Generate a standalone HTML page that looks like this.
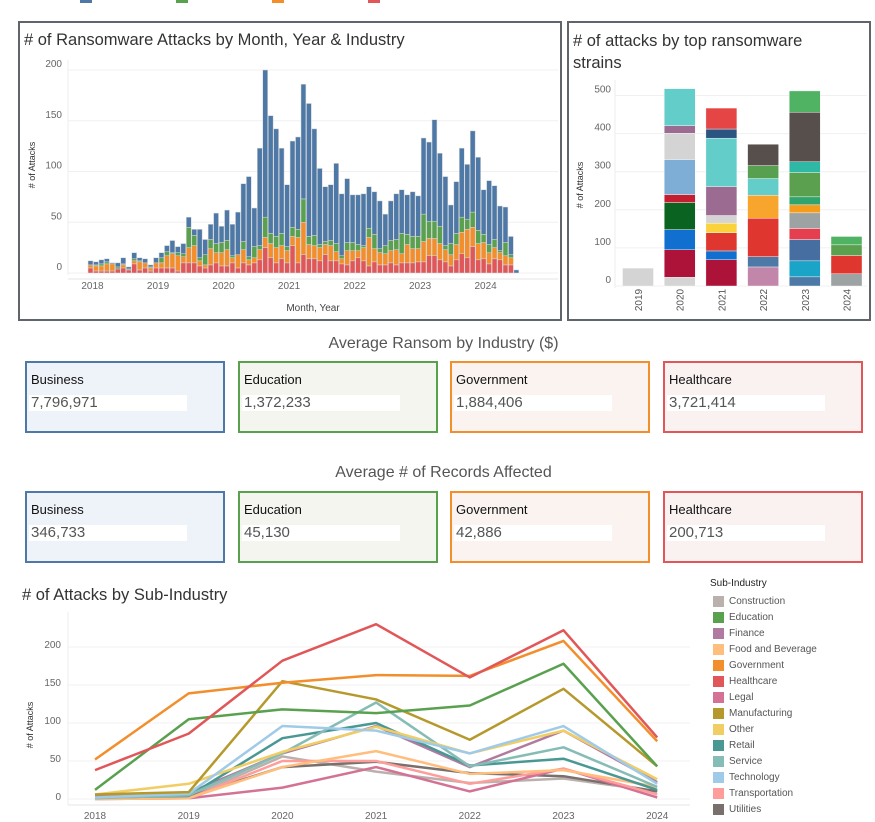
<!DOCTYPE html>
<html><head><meta charset="utf-8">
<style>
*{box-sizing:border-box}
body{margin:0;width:875px;height:822px;background:#fff;font-family:"Liberation Sans","DejaVu Sans",sans-serif;position:relative;overflow:hidden;color:#333}
.abs{position:absolute}
.box{position:absolute;border:2px solid #5f656b}
.title{position:absolute;font-size:16.5px;color:#333}
.sec{position:absolute;font-size:16px;color:#555;width:875px;text-align:center}
.card{position:absolute;width:200px;height:72px;border:2px solid}
.card .lab{position:absolute;left:4px;top:9px;font-size:13px;color:#111}
.card .val{position:absolute;left:2px;top:32px;width:158px;height:16px;background:#fff;font-size:15px;color:#555;padding-left:2px;line-height:16px}
svg text{font-family:"Liberation Sans",sans-serif}
</style></head><body>
<div class="abs" style="left:80px;top:0;width:12px;height:3px;background:#4e79a7"></div>
<div class="abs" style="left:176px;top:0;width:12px;height:3px;background:#59a14f"></div>
<div class="abs" style="left:272px;top:0;width:12px;height:3px;background:#f28e2b"></div>
<div class="abs" style="left:368px;top:0;width:12px;height:3px;background:#e15759"></div>

<div class="box" style="left:18px;top:21px;width:544px;height:300px"></div>
<div class="title" style="left:24px;top:31px">&#35; of Ransomware Attacks by Month, Year &amp; Industry</div>
<svg id="c1" class="abs" style="left:0;top:0" width="565" height="325"></svg>

<div class="box" style="left:567px;top:21px;width:304px;height:300px"></div>
<div class="title" style="left:573px;top:30px;line-height:22px;width:250px">&#35; of attacks by top ransomware strains</div>
<svg id="c2" class="abs" style="left:567px;top:0" width="304" height="322"></svg>

<div class="sec" style="left:6px;top:335px">Average Ransom by Industry ($)</div>
<div class="card" style="left:25px;top:361px;border-color:#4e79a7;background:#eef2f9"><div class="lab">Business</div><div class="val">7,796,971</div></div>
<div class="card" style="left:238px;top:361px;border-color:#59a14f;background:#f5f5ef"><div class="lab">Education</div><div class="val">1,372,233</div></div>
<div class="card" style="left:450px;top:361px;border-color:#f28e2b;background:#faf3ef"><div class="lab">Government</div><div class="val">1,884,406</div></div>
<div class="card" style="left:663px;top:361px;border-color:#e15759;background:#faf1f1"><div class="lab">Healthcare</div><div class="val">3,721,414</div></div>

<div class="sec" style="left:6px;top:464px">Average # of Records Affected</div>
<div class="card" style="left:25px;top:491px;border-color:#4e79a7;background:#eef2f9"><div class="lab">Business</div><div class="val">346,733</div></div>
<div class="card" style="left:238px;top:491px;border-color:#59a14f;background:#f5f5ef"><div class="lab">Education</div><div class="val">45,130</div></div>
<div class="card" style="left:450px;top:491px;border-color:#f28e2b;background:#faf3ef"><div class="lab">Government</div><div class="val">42,886</div></div>
<div class="card" style="left:663px;top:491px;border-color:#e15759;background:#faf1f1"><div class="lab">Healthcare</div><div class="val">200,713</div></div>

<div class="title" style="left:22px;top:586px">&#35; of Attacks by Sub-Industry</div>
<svg id="c3" class="abs" style="left:0;top:600px" width="700" height="222"></svg>
<div id="leg" class="abs" style="left:710px;top:578px;width:160px"></div>

<script>
const NS="http://www.w3.org/2000/svg";
function mk(svg,tag,attrs,txt){const e=document.createElementNS(NS,tag);for(const k in attrs)e.setAttribute(k,attrs[k]);if(txt!==undefined)e.textContent=txt;svg.appendChild(e);return e;}

// ---- Chart 1 data ----
const monthTotals=[12,11,13,14,10,10,15,6,20,15,14,8, 15,20,27,32,26,29,55,43,43,33,48,59, 46,62,48,60,88,95,64,123,200,155,142,123, 87,130,134,186,167,142,103,85,87,108,78,93, 77,77,78,85,80,71,58,71,78,82,77,80, 76,133,129,151,118,95,67,90,123,107,140,114, 82,91,86,66,65,36,3];
const healthcare=[5,2,2,2,2,4,5,3,9,3,5,2, 5,5,5,5,2,10,10,10,7,5,8,10, 7,7,10,5,10,8,10,13,25,15,10,14, 10,27,10,18,14,14,12,18,12,12,9,8, 12,15,12,7,11,8,8,10,8,10,10,10, 11,11,17,17,13,11,7,13,19,15,26,13, 14,9,14,13,8,8,0];
const government=[3,5,5,7,7,0,3,0,3,8,5,3, 5,5,12,14,15,6,15,17,5,3,16,10, 13,16,5,13,13,5,5,10,10,14,15,13, 12,9,25,32,14,13,13,10,15,9,5,14, 10,7,13,28,13,12,11,12,15,9,18,14, 13,20,17,17,16,12,11,15,21,28,19,16, 16,11,11,7,9,7,0];
const education=[0,1,2,2,0,2,1,1,2,1,0,1, 0,5,4,1,3,3,20,10,3,10,9,9, 10,9,2,0,8,3,11,4,20,10,11,12, 4,9,8,23,8,10,3,3,5,8,3,8, 8,6,2,9,14,4,8,10,10,20,10,12, 12,27,17,17,17,4,11,11,15,10,15,13, 8,8,8,2,13,3,0];
const yTicks1=[0,50,100,150,200];
const xYears1=["2018","2019","2020","2021","2022","2023","2024"];
(function(){
 const svg=document.getElementById('c1');
 const y=v=>273-v*1.015, x=i=>90.5+i*5.46, bw=4.9;
 yTicks1.forEach(t=>{
  const g=mk(svg,'line',{x1:68,x2:558,y1:y(t),y2:y(t),stroke:'#f0f0f0'});
  
  const l=mk(svg,'text',{x:62,y:y(t)-3,'font-size':10,fill:'#666','text-anchor':'end'},t);
  
 });
 mk(svg,'line',{x1:68,x2:68,y1:60,y2:275,stroke:'#eee'});
 mk(svg,'line',{x1:68,x2:558,y1:279,y2:279,stroke:'#e6e6e6'});
 xYears1.forEach((yr,i)=>{
  const t=mk(svg,'text',{x:x(i*12)+2,y:289,'font-size':10,fill:'#666','text-anchor':'middle'},yr);
  
 });
 const xt=mk(svg,'text',{x:313,y:311,'font-size':10,fill:'#444','text-anchor':'middle'},'Month, Year');
 
 const yt=mk(svg,'text',{x:0,y:0,'font-size':9,fill:'#333','text-anchor':'middle',transform:'translate(35,165) rotate(-90)'},'# of Attacks');
 
 monthTotals.forEach((tot,i)=>{
  const segs=[[healthcare[i],'#e15759'],[government[i],'#f28e2b'],[education[i],'#59a14f'],[Math.max(0,tot-healthcare[i]-government[i]-education[i]),'#4e79a7']];
  let acc=0;
  segs.forEach(([v,c])=>{ if(v<=0)return;
   const r=mk(svg,'rect',{x:x(i)-bw/2,y:y(acc+v),width:bw,height:v*1.015,fill:c,stroke:'#d8d8d8','stroke-width':0.5});
   
   acc+=v;});
 });
})();

// ---- Chart 2 data ----
const strainYears=["2019","2020","2021","2022","2023","2024"];
const strainVals=[[47],[23,72,53,71,21,92,69,20,97],[69,23,48,25,20,76,127,24,55],[50,27,101,60,44,34,56],[24,42,56,29,41,21,21,64,28,130,56],[32,48,28,22]];
const strainColors=[["#d4d4d4"],["#d4d4d4","#ad1238","#1170cf","#0a6320","#c41f30","#7eaed5","#d4d4d4","#9b6b92","#63cdc9"],["#ad1238","#1170cf","#e03630","#f9d23c","#d4d4d4","#9b6b92","#63cdc9","#2b5480","#e64545"],["#c186aa","#4c79a6","#e03630","#f7a52d","#63cdc9","#56a04f","#574f4b"],["#4c79a6","#1aa4c8","#476ea0","#e43e4f","#9da2a2","#f59c1a","#2fa56d","#5aa04f","#2fb8a6","#574f4b","#4fb363"],["#9da2a2","#e03630","#5aa04f","#4fb363"]];
const yTicks2=[0,100,200,300,400,500];
(function(){
 const svg=document.getElementById('c2');
 const y=v=>286-v*0.381, x=i=>71+i*41.7, bw=31;
 yTicks2.forEach(t=>{
  mk(svg,'line',{x1:48,x2:300,y1:y(t),y2:y(t),stroke:'#f0f0f0'});
  const l=mk(svg,'text',{x:44,y:y(t)-3,'font-size':10,fill:'#666','text-anchor':'end'},t);
  
 });
 mk(svg,'line',{x1:48,x2:48,y1:80,y2:288,stroke:'#eee'});
 const yt=mk(svg,'text',{x:0,y:0,'font-size':9,fill:'#333','text-anchor':'middle',transform:'translate(16,185) rotate(-90)'},'# of Attacks');
 
 strainYears.forEach((yr,i)=>{
  let acc=0;
  strainVals[i].forEach((v,j)=>{
   const r=mk(svg,'rect',{x:x(i)-bw/2,y:y(acc+v),width:bw,height:v*0.381,fill:strainColors[i][j],stroke:'#fff','stroke-width':0.4});
   
   acc+=v;});
  const t=mk(svg,'text',{x:0,y:0,'font-size':10,fill:'#555','text-anchor':'middle',transform:`translate(${x(i)+4},300) rotate(-90)`},yr);
  
 });
})();

// ---- Chart 3 data ----
const lineYears=["2018","2019","2020","2021","2022","2023","2024"];
const subNames=["Construction","Education","Finance","Food and Beverage","Government","Healthcare","Legal","Manufacturing","Other","Retail","Service","Technology","Transportation","Utilities"];
const subColors=["#bab0ac","#59a14f","#b07aa1","#ffbe7d","#f28e2b","#e15759","#d37295","#b6992d","#f1ce63","#499894","#86bcb6","#a0cbe8","#ff9d9a","#79706e"];
const sConstruction=[1,2,56,36,21,27,10];
const sEducation=[12,105,118,113,123,178,43];
const sFinance=[4,8,60,96,42,90,22];
const sFood=[0,1,42,63,33,38,16];
const sGovernment=[52,139,153,163,162,208,76];
const sHealthcare=[38,86,182,230,160,222,81];
const sLegal=[0,1,15,42,10,40,2];
const sManufacturing=[6,9,155,131,78,145,43];
const sOther=[6,20,62,95,60,90,26];
const sRetail=[2,4,80,100,44,53,12];
const sService=[1,5,60,127,43,68,16];
const sTechnology=[2,7,96,90,60,96,20];
const sTransport=[0,1,50,50,20,40,6];
const sUtilities=[1,3,42,49,34,30,10];
const subSeries=[sConstruction,sEducation,sFinance,sFood,sGovernment,sHealthcare,sLegal,sManufacturing,sOther,sRetail,sService,sTechnology,sTransport,sUtilities];
const yTicks3=[0,50,100,150,200];
(function(){
 const svg=document.getElementById('c3');
 const y=v=>199-v*0.76, x=i=>95+i*93.7;
 yTicks3.forEach(t=>{
  mk(svg,'line',{x1:68,x2:690,y1:y(t),y2:y(t),stroke:'#f0f0f0'});
  const l=mk(svg,'text',{x:61,y:y(t)+1,'font-size':10,fill:'#666','text-anchor':'end'},t);
  
 });
 mk(svg,'line',{x1:68,x2:68,y1:12,y2:205,stroke:'#eee'});
 mk(svg,'line',{x1:68,x2:690,y1:205,y2:205,stroke:'#e6e6e6'});
 const yt=mk(svg,'text',{x:0,y:0,'font-size':9,fill:'#333','text-anchor':'middle',transform:'translate(33,125) rotate(-90)'},'# of Attacks');
 
 lineYears.forEach((yr,i)=>{
  const t=mk(svg,'text',{x:x(i),y:219,'font-size':10,fill:'#666','text-anchor':'middle'},yr);
  
 });
 const order=[0,13,6,12,3,2,9,10,8,11,7,1,4,5];
 order.forEach(k=>{
  const pts=subSeries[k].map((v,i)=>x(i)+','+y(v)).join(' ');
  const p=mk(svg,'polyline',{points:pts,fill:'none',stroke:subColors[k],'stroke-width':2.5,'stroke-linejoin':'round'});
  
  
 });
 const leg=document.getElementById('leg');
 const h=document.createElement('div');
 
 
 h.style.cssText='font-size:10px;color:#222;margin-bottom:4px';h.textContent='Sub-Industry';leg.appendChild(h);
 subNames.forEach((n,k)=>{
  const r=document.createElement('div');
  
  
  r.style.cssText='height:16px;font-size:10px;color:#555;display:flex;align-items:center;padding-left:3px';
  r.innerHTML='<span style="display:inline-block;width:11px;height:11px;background:'+subColors[k]+';margin-right:5px"></span>'+n;
  leg.appendChild(r);
 });
})();
</script>
</body></html>
